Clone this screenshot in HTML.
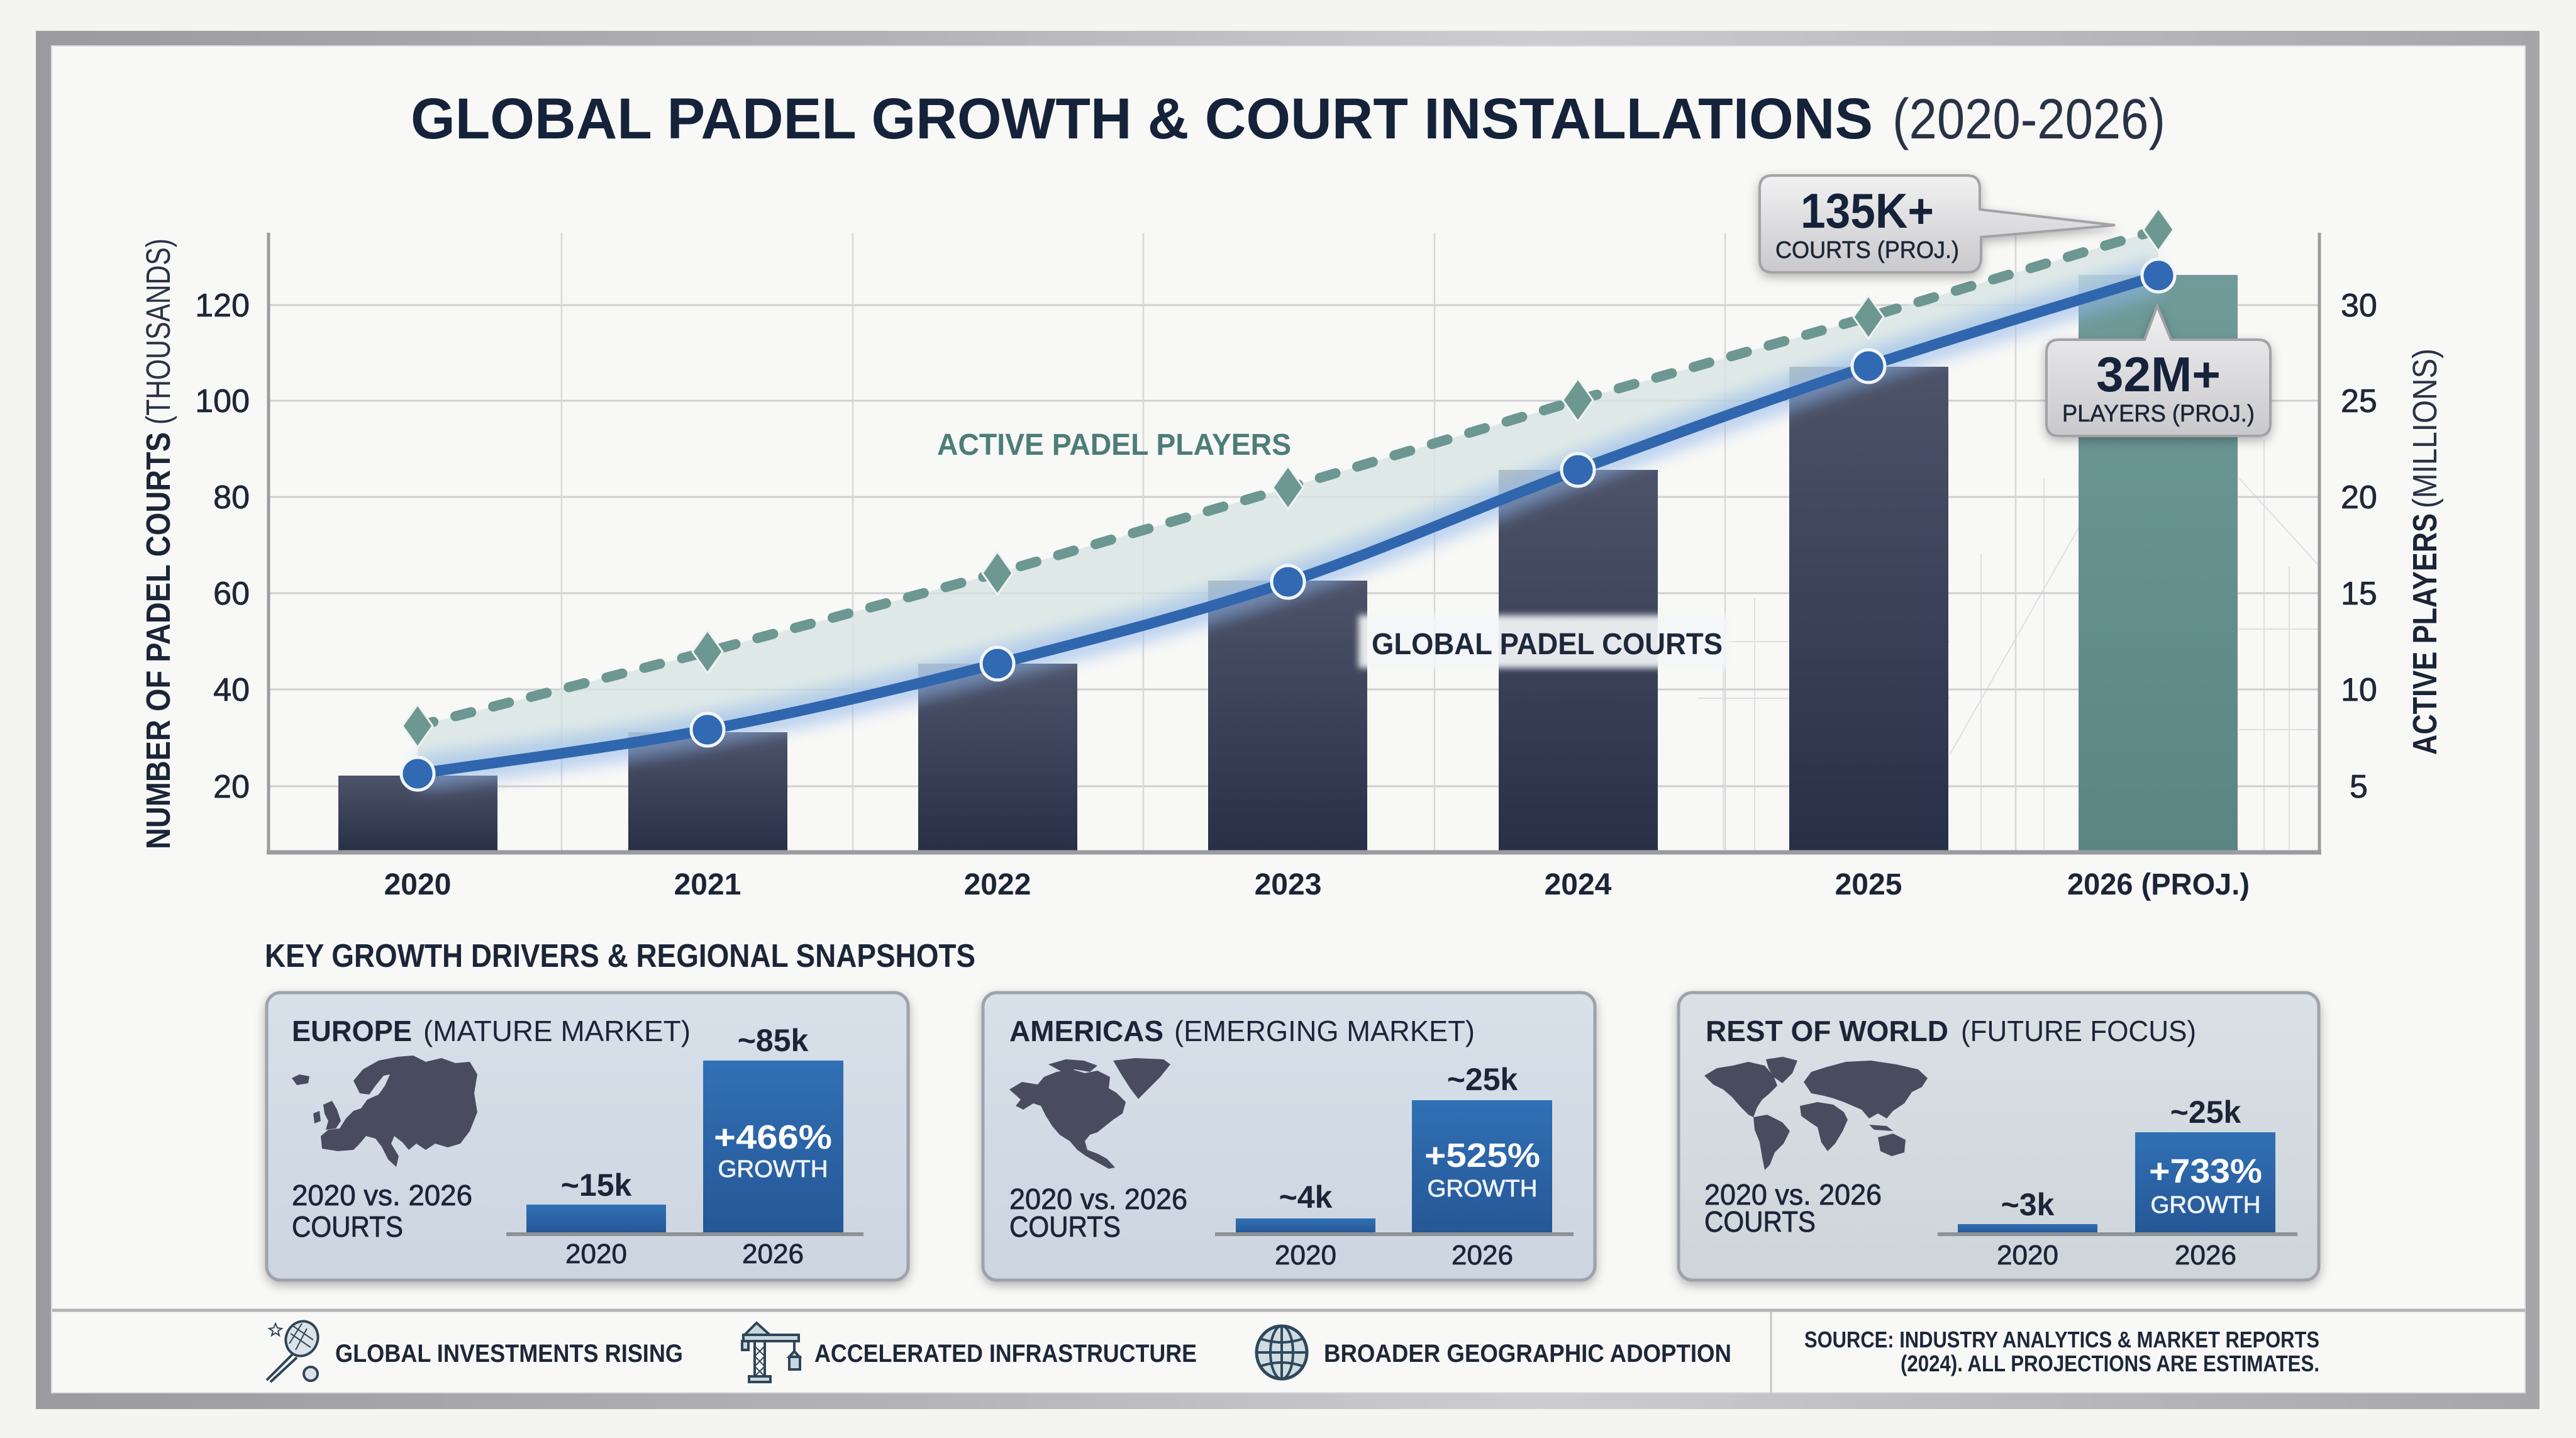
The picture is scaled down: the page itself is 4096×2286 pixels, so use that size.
<!DOCTYPE html>
<html><head><meta charset="utf-8"><style>html,body{margin:0;padding:0;background:#f4f4f2}svg{display:block}</style></head>
<body>
<svg width="4096" height="2286" viewBox="0 0 4096 2286" xmlns="http://www.w3.org/2000/svg" font-family="'Liberation Sans', sans-serif">
<defs>
<linearGradient id="frameG" x1="0" y1="0" x2="1" y2="0"><stop offset="0" stop-color="#9b9b9f"/><stop offset="0.35" stop-color="#b4b4b7"/><stop offset="0.6" stop-color="#cdcdcf"/><stop offset="1" stop-color="#a6a6a9"/></linearGradient>
<linearGradient id="barG" x1="0" y1="0" x2="0" y2="1"><stop offset="0" stop-color="#4d5369"/><stop offset="1" stop-color="#283048"/></linearGradient>
<linearGradient id="tealG" x1="0" y1="0" x2="0" y2="1"><stop offset="0" stop-color="#709b99"/><stop offset="1" stop-color="#5a8583"/></linearGradient>
<linearGradient id="blueBarG" x1="0" y1="0" x2="0" y2="1"><stop offset="0" stop-color="#3170b5"/><stop offset="1" stop-color="#255796"/></linearGradient>
<linearGradient id="panelG" x1="0" y1="0" x2="0" y2="1"><stop offset="0" stop-color="#d8e0ea"/><stop offset="1" stop-color="#ccd5e0"/></linearGradient>
<linearGradient id="rowG" x1="0" y1="0" x2="0" y2="1"><stop offset="0" stop-color="#dae1e6"/><stop offset="1" stop-color="#cdd5db"/></linearGradient>
<linearGradient id="callG" x1="0" y1="0" x2="0" y2="1"><stop offset="0" stop-color="#f1f1f2"/><stop offset="1" stop-color="#c9c9cc"/></linearGradient>
<filter id="blur" x="-20%" y="-20%" width="140%" height="140%"><feGaussianBlur stdDeviation="12"/></filter>
<filter id="soft" x="-10%" y="-30%" width="120%" height="160%"><feGaussianBlur stdDeviation="5"/></filter>
<filter id="shadow" x="-20%" y="-20%" width="140%" height="150%"><feDropShadow dx="0" dy="6" stdDeviation="8" flood-color="#000" flood-opacity="0.28"/></filter>
</defs>

<!-- background + frame -->
<rect x="0" y="0" width="4096" height="2286" fill="#f4f4f2"/>
<rect x="57" y="49" width="3981" height="2191" fill="url(#frameG)"/>
<rect x="82" y="73" width="3933" height="2141" fill="#f8f8f6" stroke="#dcdcde" stroke-width="2"/>

<!-- title -->
<text x="653" y="220" font-size="92" font-weight="bold" fill="#15223a" textLength="2325" lengthAdjust="spacingAndGlyphs">GLOBAL PADEL GROWTH &amp; COURT INSTALLATIONS</text>
<text x="3009" y="220" font-size="90" fill="#2a3245" textLength="434" lengthAdjust="spacingAndGlyphs">(2020-2026)</text>

<!-- faint sketch lines -->
<g stroke="#cdd1d5" stroke-width="2" opacity="0.6" fill="none">
<line x1="2740" y1="1000" x2="2740" y2="1350"/><line x1="2790" y1="950" x2="2790" y2="1350"/>
<line x1="3150" y1="880" x2="3150" y2="1350"/><line x1="3250" y1="760" x2="3250" y2="1350"/>
<line x1="3600" y1="700" x2="3600" y2="1350"/><line x1="3640" y1="900" x2="3640" y2="1350"/>
<line x1="2700" y1="1020" x2="3100" y2="1020"/><line x1="2700" y1="1110" x2="3100" y2="1110"/>
<line x1="3560" y1="1000" x2="3688" y2="1000"/><line x1="3560" y1="1160" x2="3688" y2="1160"/>
<line x1="3100" y1="1200" x2="3350" y2="760"/><line x1="3560" y1="760" x2="3688" y2="900"/>
</g>

<!-- grid -->
<g stroke="#d0d0d2" stroke-width="3">
<line x1="427" y1="485" x2="3688" y2="485"/><line x1="427" y1="637" x2="3688" y2="637"/>
<line x1="427" y1="790" x2="3688" y2="790"/><line x1="427" y1="943" x2="3688" y2="943"/>
<line x1="427" y1="1096" x2="3688" y2="1096"/><line x1="427" y1="1250" x2="3688" y2="1250"/>
</g>
<g stroke="#d8d8da" stroke-width="2.5">
<line x1="893" y1="370" x2="893" y2="1355"/><line x1="1356" y1="370" x2="1356" y2="1355"/>
<line x1="1818" y1="370" x2="1818" y2="1355"/><line x1="2281" y1="370" x2="2281" y2="1355"/>
<line x1="2743" y1="370" x2="2743" y2="1355"/><line x1="3205" y1="370" x2="3205" y2="1355"/>
</g>

<!-- bars -->
<rect x="538" y="1233" width="253" height="120" fill="url(#barG)"/>
<rect x="999" y="1164" width="253" height="189" fill="url(#barG)"/>
<rect x="1460" y="1055" width="253" height="298" fill="url(#barG)"/>
<rect x="1921" y="923" width="253" height="430" fill="url(#barG)"/>
<rect x="2383" y="747" width="253" height="606" fill="url(#barG)"/>
<rect x="2845" y="583" width="253" height="770" fill="url(#barG)"/>
<rect x="3305" y="437" width="253" height="916" fill="url(#tealG)"/>

<!-- band between lines -->
<path d="M664,1154 L1125,1036 L1586,911 L2048,775 L2509,636 L2971,504 L3432,365 L3432,438 C3355.2,462 3124.8,530.5 2971,582 C2817.2,633.5 2662.8,689.8 2509,747 C2355.2,804.2 2201.8,873.7 2048,925 C1894.2,976.3 1739.8,1015.8 1586,1055 C1432.2,1094.2 1278.7,1130.8 1125,1160 C971.3,1189.2 740.8,1218.3 664,1230 Z" fill="#d5e4e2" opacity="0.75"/>

<!-- blue glow -->
<path d="M664,1230 C740.8,1218.3 971.3,1189.2 1125,1160 C1278.7,1130.8 1432.2,1094.2 1586,1055 C1739.8,1015.8 1894.2,976.3 2048,925 C2201.8,873.7 2355.2,804.2 2509,747 C2662.8,689.8 2817.2,633.5 2971,582 C3124.8,530.5 3355.2,462 3432,438" fill="none" stroke="#8fb5ea" stroke-width="55" opacity="0.55" filter="url(#blur)"/>

<!-- green dashed line -->
<polyline points="664,1154 1125,1036 1586,911 2048,775 2509,636 2971,504 3432,365" fill="none" stroke="#6d9791" stroke-width="16" stroke-dasharray="26 36" stroke-linecap="round"/>
<g fill="#6d9791" stroke="#eef3f2" stroke-width="3">
<polygon points="664,1120 688,1154 664,1188 640,1154"/>
<polygon points="1125,1002 1149,1036 1125,1070 1101,1036"/>
<polygon points="1586,877 1610,911 1586,945 1562,911"/>
<polygon points="2048,741 2072,775 2048,809 2024,775"/>
<polygon points="2509,602 2533,636 2509,670 2485,636"/>
<polygon points="2971,470 2995,504 2971,538 2947,504"/>
<polygon points="3432,331 3456,365 3432,399 3408,365"/>
</g>

<!-- blue line -->
<path d="M664,1230 C740.8,1218.3 971.3,1189.2 1125,1160 C1278.7,1130.8 1432.2,1094.2 1586,1055 C1739.8,1015.8 1894.2,976.3 2048,925 C2201.8,873.7 2355.2,804.2 2509,747 C2662.8,689.8 2817.2,633.5 2971,582 C3124.8,530.5 3355.2,462 3432,438" fill="none" stroke="#2f66ae" stroke-width="17" stroke-linecap="round"/>
<g fill="#3169b2" stroke="#f2f5fa" stroke-width="5">
<circle cx="664" cy="1230" r="26"/><circle cx="1125" cy="1160" r="26"/><circle cx="1586" cy="1055" r="26"/>
<circle cx="2048" cy="925" r="26"/><circle cx="2509" cy="747" r="26"/><circle cx="2971" cy="582" r="26"/>
<circle cx="3432" cy="438" r="26"/>
</g>

<!-- axes -->
<line x1="427" y1="370" x2="427" y2="1358" stroke="#9c9ca0" stroke-width="5"/>
<line x1="3688" y1="370" x2="3688" y2="1358" stroke="#9c9ca0" stroke-width="5"/>
<line x1="424" y1="1355" x2="3691" y2="1355" stroke="#9c9ca0" stroke-width="7"/>

<!-- series labels -->
<text x="1490" y="723" font-size="48" font-weight="bold" fill="#4d7d77" textLength="563" lengthAdjust="spacingAndGlyphs">ACTIVE PADEL PLAYERS</text>
<rect x="2160" y="978" width="590" height="84" fill="#f5f6f8" opacity="0.92" filter="url(#soft)"/>
<text x="2181" y="1040" font-size="48" font-weight="bold" fill="#1e283c" textLength="558" lengthAdjust="spacingAndGlyphs">GLOBAL PADEL COURTS</text>

<!-- tick labels left -->
<g font-size="52" fill="#1f2637" stroke="#1f2637" stroke-width="0.8" text-anchor="end">
<text x="397" y="503">120</text><text x="397" y="655">100</text><text x="397" y="808">80</text>
<text x="397" y="961">60</text><text x="397" y="1114">40</text><text x="397" y="1268">20</text>
</g>
<!-- tick labels right -->
<g font-size="52" fill="#1f2637" stroke="#1f2637" stroke-width="0.8">
<text x="3722" y="503">30</text><text x="3722" y="655">25</text><text x="3722" y="808">20</text>
<text x="3722" y="961">15</text><text x="3722" y="1114">10</text><text x="3736" y="1268">5</text>
</g>
<!-- x labels -->
<g font-size="48" font-weight="bold" fill="#1c2537" text-anchor="middle">
<text x="664" y="1422">2020</text><text x="1125" y="1422">2021</text><text x="1586" y="1422">2022</text>
<text x="2048" y="1422">2023</text><text x="2509" y="1422">2024</text><text x="2971" y="1422">2025</text>
<text x="3432" y="1422" textLength="290" lengthAdjust="spacingAndGlyphs">2026 (PROJ.)</text>
</g>

<!-- axis titles -->
<g transform="translate(270,1350) rotate(-90)">
<text x="0" y="0" font-size="54" font-weight="bold" fill="#1c2537" textLength="663" lengthAdjust="spacingAndGlyphs">NUMBER OF PADEL COURTS</text>
<text x="675" y="0" font-size="54" fill="#2a3245" textLength="296" lengthAdjust="spacingAndGlyphs">(THOUSANDS)</text>
</g>
<g transform="translate(3874,1200) rotate(-90)">
<text x="0" y="0" font-size="54" font-weight="bold" fill="#1c2537" textLength="384" lengthAdjust="spacingAndGlyphs">ACTIVE PLAYERS</text>
<text x="392" y="0" font-size="54" fill="#2a3245" textLength="254" lengthAdjust="spacingAndGlyphs">(MILLIONS)</text>
</g>

<!-- callouts -->
<path d="M2818,279 H3128 Q3148,279 3148,299 V333 L3363,358 L3150,377 V413 Q3148,433 3128,433 H2818 Q2798,433 2798,413 V299 Q2798,279 2818,279 Z" fill="url(#callG)" stroke="#a3a3a7" stroke-width="4" filter="url(#shadow)"/>
<text x="2969" y="362" font-size="78" font-weight="bold" fill="#16223a" text-anchor="middle" textLength="212" lengthAdjust="spacingAndGlyphs">135K+</text>
<text x="2969" y="410" font-size="38" fill="#1c2537" stroke="#1c2537" stroke-width="0.6" text-anchor="middle" textLength="292" lengthAdjust="spacingAndGlyphs">COURTS (PROJ.)</text>

<path d="M3274,540 H3410 L3430,487 L3452,540 H3590 Q3610,540 3610,560 V673 Q3610,693 3590,693 H3274 Q3254,693 3254,673 V560 Q3254,540 3274,540 Z" fill="url(#callG)" stroke="#a3a3a7" stroke-width="4" filter="url(#shadow)"/>
<text x="3432" y="622" font-size="78" font-weight="bold" fill="#16223a" text-anchor="middle" textLength="198" lengthAdjust="spacingAndGlyphs">32M+</text>
<text x="3432" y="670" font-size="38" fill="#1c2537" stroke="#1c2537" stroke-width="0.6" text-anchor="middle" textLength="306" lengthAdjust="spacingAndGlyphs">PLAYERS (PROJ.)</text>

<!-- section header -->
<text x="421" y="1537" font-size="52" font-weight="bold" fill="#1c2538" textLength="1130" lengthAdjust="spacingAndGlyphs">KEY GROWTH DRIVERS &amp; REGIONAL SNAPSHOTS</text>

<!-- panels -->
<rect x="424" y="1578" width="1020" height="457" rx="22" fill="url(#panelG)" stroke="#9ea3ab" stroke-width="5" filter="url(#shadow)"/>
<rect x="1563" y="1578" width="973" height="457" rx="22" fill="url(#panelG)" stroke="#9ea3ab" stroke-width="5" filter="url(#shadow)"/>
<rect x="2669" y="1578" width="1018" height="457" rx="22" fill="url(#rowG)" stroke="#9ea3ab" stroke-width="5" filter="url(#shadow)"/>

<!-- Europe panel -->
<text x="464" y="1655" font-size="46" font-weight="bold" fill="#1c2537" textLength="191" lengthAdjust="spacingAndGlyphs">EUROPE</text>
<text x="673" y="1655" font-size="46" fill="#1c2537" textLength="425" lengthAdjust="spacingAndGlyphs">(MATURE MARKET)</text>
<g transform="translate(462,1678)" fill="#494c5e">
<path d="M110,60 L100,40 L115,22 L140,8 L170,2 L195,0 L215,10 L240,4 L262,12 L285,10 L297,30 L292,60 L297,90 L285,120 L270,140 L250,146 L230,140 L215,150 L200,140 L188,150 L178,138 L165,128 L160,140 L172,160 L168,177 L155,165 L145,145 L135,132 L120,128 L110,140 L100,150 L75,152 L50,148 L48,128 L60,118 L78,116 L88,100 L100,88 L112,84 L122,70 L140,62 L150,48 L158,30 L148,32 L135,48 L125,62 Z"/>
<path d="M52,78 L66,72 L74,86 L80,104 L72,116 L56,118 L60,104 L54,92 Z"/>
<path d="M36,92 L46,88 L48,104 L38,108 Z"/>
<path d="M2,36 L14,30 L30,33 L28,44 L10,47 Z"/>
</g>
<text x="464" y="1916" font-size="46" fill="#1c2537" stroke="#1c2537" stroke-width="0.8" textLength="287" lengthAdjust="spacingAndGlyphs">2020 vs. 2026</text>
<text x="464" y="1966" font-size="46" fill="#1c2537" stroke="#1c2537" stroke-width="0.8" textLength="177" lengthAdjust="spacingAndGlyphs">COURTS</text>
<rect x="837" y="1915" width="222" height="45" fill="url(#blueBarG)"/>
<rect x="1118" y="1686" width="223" height="274" fill="url(#blueBarG)"/>
<line x1="805" y1="1962" x2="1373" y2="1962" stroke="#8e9196" stroke-width="6"/>
<g text-anchor="middle">
<text x="948" y="1901" font-size="50" font-weight="bold" fill="#1c2537">~15k</text>
<text x="1229" y="1671" font-size="50" font-weight="bold" fill="#1c2537">~85k</text>
<text x="1229" y="1826" font-size="54" font-weight="bold" fill="#ffffff" textLength="188" lengthAdjust="spacingAndGlyphs">+466%</text>
<text x="1229" y="1871" font-size="38" fill="#eef3f9" stroke="#eef3f9" stroke-width="0.8" textLength="175" lengthAdjust="spacingAndGlyphs">GROWTH</text>
<text x="948" y="2008" font-size="44" fill="#1c2537" stroke="#1c2537" stroke-width="0.8">2020</text>
<text x="1229" y="2008" font-size="44" fill="#1c2537" stroke="#1c2537" stroke-width="0.8">2026</text>
</g>

<!-- Americas panel -->
<text x="1605" y="1655" font-size="46" font-weight="bold" fill="#1c2537" textLength="245" lengthAdjust="spacingAndGlyphs">AMERICAS</text>
<text x="1867" y="1655" font-size="46" fill="#1c2537" textLength="478" lengthAdjust="spacingAndGlyphs">(EMERGING MARKET)</text>
<g transform="translate(1605,1682)" fill="#494c5e">
<path d="M0,50 L20,38 L45,42 L55,30 L75,22 L100,18 L120,24 L140,20 L160,30 L158,48 L170,55 L185,70 L180,88 L165,98 L150,110 L140,118 L128,122 L120,132 L124,146 L140,152 L155,160 L168,174 L158,176 L140,166 L122,156 L108,146 L96,132 L80,122 L68,108 L58,92 L50,76 L38,72 L22,82 L10,76 L18,66 Z"/>
<path d="M62,10 L90,2 L118,4 L140,12 L128,22 L104,18 L84,22 Z"/>
<path d="M165,4 L200,0 L245,2 L256,10 L240,30 L222,48 L205,65 L192,48 L178,26 Z"/>
</g>
<text x="1605" y="1922" font-size="46" fill="#1c2537" stroke="#1c2537" stroke-width="0.8" textLength="283" lengthAdjust="spacingAndGlyphs">2020 vs. 2026</text>
<text x="1605" y="1966" font-size="46" fill="#1c2537" stroke="#1c2537" stroke-width="0.8" textLength="177" lengthAdjust="spacingAndGlyphs">COURTS</text>
<rect x="1965" y="1937" width="222" height="23" fill="url(#blueBarG)"/>
<rect x="2245" y="1749" width="223" height="211" fill="url(#blueBarG)"/>
<line x1="1932" y1="1962" x2="2502" y2="1962" stroke="#8e9196" stroke-width="6"/>
<g text-anchor="middle">
<text x="2076" y="1920" font-size="50" font-weight="bold" fill="#1c2537">~4k</text>
<text x="2357" y="1733" font-size="50" font-weight="bold" fill="#1c2537">~25k</text>
<text x="2357" y="1855" font-size="54" font-weight="bold" fill="#ffffff" textLength="184" lengthAdjust="spacingAndGlyphs">+525%</text>
<text x="2357" y="1902" font-size="38" fill="#eef3f9" stroke="#eef3f9" stroke-width="0.8" textLength="175" lengthAdjust="spacingAndGlyphs">GROWTH</text>
<text x="2076" y="2010" font-size="44" fill="#1c2537" stroke="#1c2537" stroke-width="0.8">2020</text>
<text x="2357" y="2010" font-size="44" fill="#1c2537" stroke="#1c2537" stroke-width="0.8">2026</text>
</g>

<!-- Rest of world panel -->
<text x="2712" y="1655" font-size="46" font-weight="bold" fill="#1c2537" textLength="386" lengthAdjust="spacingAndGlyphs">REST OF WORLD</text>
<text x="3118" y="1655" font-size="46" fill="#1c2537" textLength="374" lengthAdjust="spacingAndGlyphs">(FUTURE FOCUS)</text>
<g transform="translate(2710,1680)" fill="#494c5e">
<path d="M0,30 L20,18 L45,14 L70,8 L96,14 L110,30 L116,46 L104,58 L92,68 L84,80 L78,96 L70,92 L58,80 L44,64 L30,52 L14,44 Z"/>
<path d="M98,4 L125,0 L148,6 L140,26 L124,42 L110,32 L102,18 Z"/>
<path d="M78,96 L100,92 L124,104 L136,118 L126,138 L112,152 L104,172 L96,180 L92,160 L88,136 L80,116 Z"/>
<path d="M158,40 L170,24 L195,16 L225,8 L265,6 L305,12 L340,20 L355,34 L346,48 L330,56 L318,74 L300,86 L290,98 L276,90 L262,98 L250,84 L236,78 L222,72 L205,66 L190,62 L170,58 Z"/>
<path d="M152,78 L180,72 L205,76 L222,88 L228,100 L220,118 L208,138 L196,150 L186,136 L180,112 L168,104 L154,94 Z"/>
<path d="M276,128 L300,122 L320,132 L318,152 L298,158 L280,150 Z"/>
<path d="M262,108 L290,110 L300,118 L270,116 Z"/>
</g>
<text x="2710" y="1915" font-size="46" fill="#1c2537" stroke="#1c2537" stroke-width="0.8" textLength="282" lengthAdjust="spacingAndGlyphs">2020 vs. 2026</text>
<text x="2710" y="1958" font-size="46" fill="#1c2537" stroke="#1c2537" stroke-width="0.8" textLength="177" lengthAdjust="spacingAndGlyphs">COURTS</text>
<rect x="3113" y="1946" width="222" height="14" fill="url(#blueBarG)"/>
<rect x="3395" y="1800" width="223" height="160" fill="url(#blueBarG)"/>
<line x1="3081" y1="1962" x2="3653" y2="1962" stroke="#8e9196" stroke-width="6"/>
<g text-anchor="middle">
<text x="3224" y="1932" font-size="50" font-weight="bold" fill="#1c2537">~3k</text>
<text x="3507" y="1785" font-size="50" font-weight="bold" fill="#1c2537">~25k</text>
<text x="3507" y="1880" font-size="54" font-weight="bold" fill="#ffffff" textLength="180" lengthAdjust="spacingAndGlyphs">+733%</text>
<text x="3507" y="1928" font-size="38" fill="#eef3f9" stroke="#eef3f9" stroke-width="0.8" textLength="175" lengthAdjust="spacingAndGlyphs">GROWTH</text>
<text x="3224" y="2010" font-size="44" fill="#1c2537" stroke="#1c2537" stroke-width="0.8">2020</text>
<text x="3507" y="2010" font-size="44" fill="#1c2537" stroke="#1c2537" stroke-width="0.8">2026</text>
</g>

<!-- footer -->
<line x1="83" y1="2083" x2="4015" y2="2083" stroke="#b5b5b8" stroke-width="5"/>
<line x1="2816" y1="2085" x2="2816" y2="2214" stroke="#c5c5c8" stroke-width="3"/>

<!-- racket icon -->
<g stroke="#2f4559" stroke-width="4" fill="none">
<ellipse cx="480" cy="2128" rx="25" ry="28" transform="rotate(25 480 2128)" fill="#dbe3e8"/>
<path d="M462,2120 L494,2142 M466,2108 L498,2130 M470,2146 L488,2112 M460,2136 L480,2104" stroke-width="2"/>
<path d="M466,2152 L424,2194 M472,2158 L430,2197" stroke-width="4"/>
<circle cx="494" cy="2184" r="11" fill="#dbe3e8"/>
<path d="M438,2104 L441,2111 L448,2112 L442,2116 L444,2123 L438,2119 L432,2123 L434,2116 L428,2112 L435,2111 Z" stroke-width="2"/>
</g>
<text x="533" y="2165" font-size="40" font-weight="bold" fill="#1e2638" textLength="553" lengthAdjust="spacingAndGlyphs">GLOBAL INVESTMENTS RISING</text>

<!-- crane icon -->
<g stroke="#2f4559" stroke-width="4" fill="#c7d8df">
<polygon points="1203,2103 1184,2122 1224,2122"/>
<rect x="1182" y="2122" width="88" height="10"/>
<rect x="1180" y="2132" width="10" height="14"/>
<rect x="1200" y="2132" width="16" height="56" fill="none"/>
<path d="M1200,2140 L1216,2156 L1200,2172 L1216,2188 M1216,2140 L1200,2156 L1216,2172 L1200,2188" fill="none" stroke-width="2"/>
<line x1="1263" y1="2132" x2="1263" y2="2150" fill="none"/>
<polygon points="1263,2148 1255,2157 1271,2157"/>
<rect x="1255" y="2157" width="17" height="20"/>
<rect x="1191" y="2188" width="34" height="9"/>
</g>
<text x="1295" y="2165" font-size="40" font-weight="bold" fill="#1e2638" textLength="608" lengthAdjust="spacingAndGlyphs">ACCELERATED INFRASTRUCTURE</text>

<!-- globe icon -->
<g stroke="#2e475b" stroke-width="4" fill="none">
<ellipse cx="2038" cy="2150" rx="40" ry="42" fill="#cfdce2" stroke-width="5"/>
<ellipse cx="2038" cy="2150" rx="18" ry="42"/>
<line x1="2038" y1="2108" x2="2038" y2="2192"/>
<line x1="1998" y1="2150" x2="2078" y2="2150"/>
<path d="M2004,2128 Q2038,2140 2072,2128 M2004,2172 Q2038,2160 2072,2172"/>
</g>
<text x="2105" y="2165" font-size="40" font-weight="bold" fill="#1e2638" textLength="648" lengthAdjust="spacingAndGlyphs">BROADER GEOGRAPHIC ADOPTION</text>

<!-- source -->
<text x="3688" y="2142" font-size="36" font-weight="bold" fill="#1e2638" text-anchor="end" textLength="819" lengthAdjust="spacingAndGlyphs">SOURCE: INDUSTRY ANALYTICS &amp; MARKET REPORTS</text>
<text x="3688" y="2180" font-size="36" font-weight="bold" fill="#1e2638" text-anchor="end" textLength="666" lengthAdjust="spacingAndGlyphs">(2024). ALL PROJECTIONS ARE ESTIMATES.</text>
</svg>
</body></html>
